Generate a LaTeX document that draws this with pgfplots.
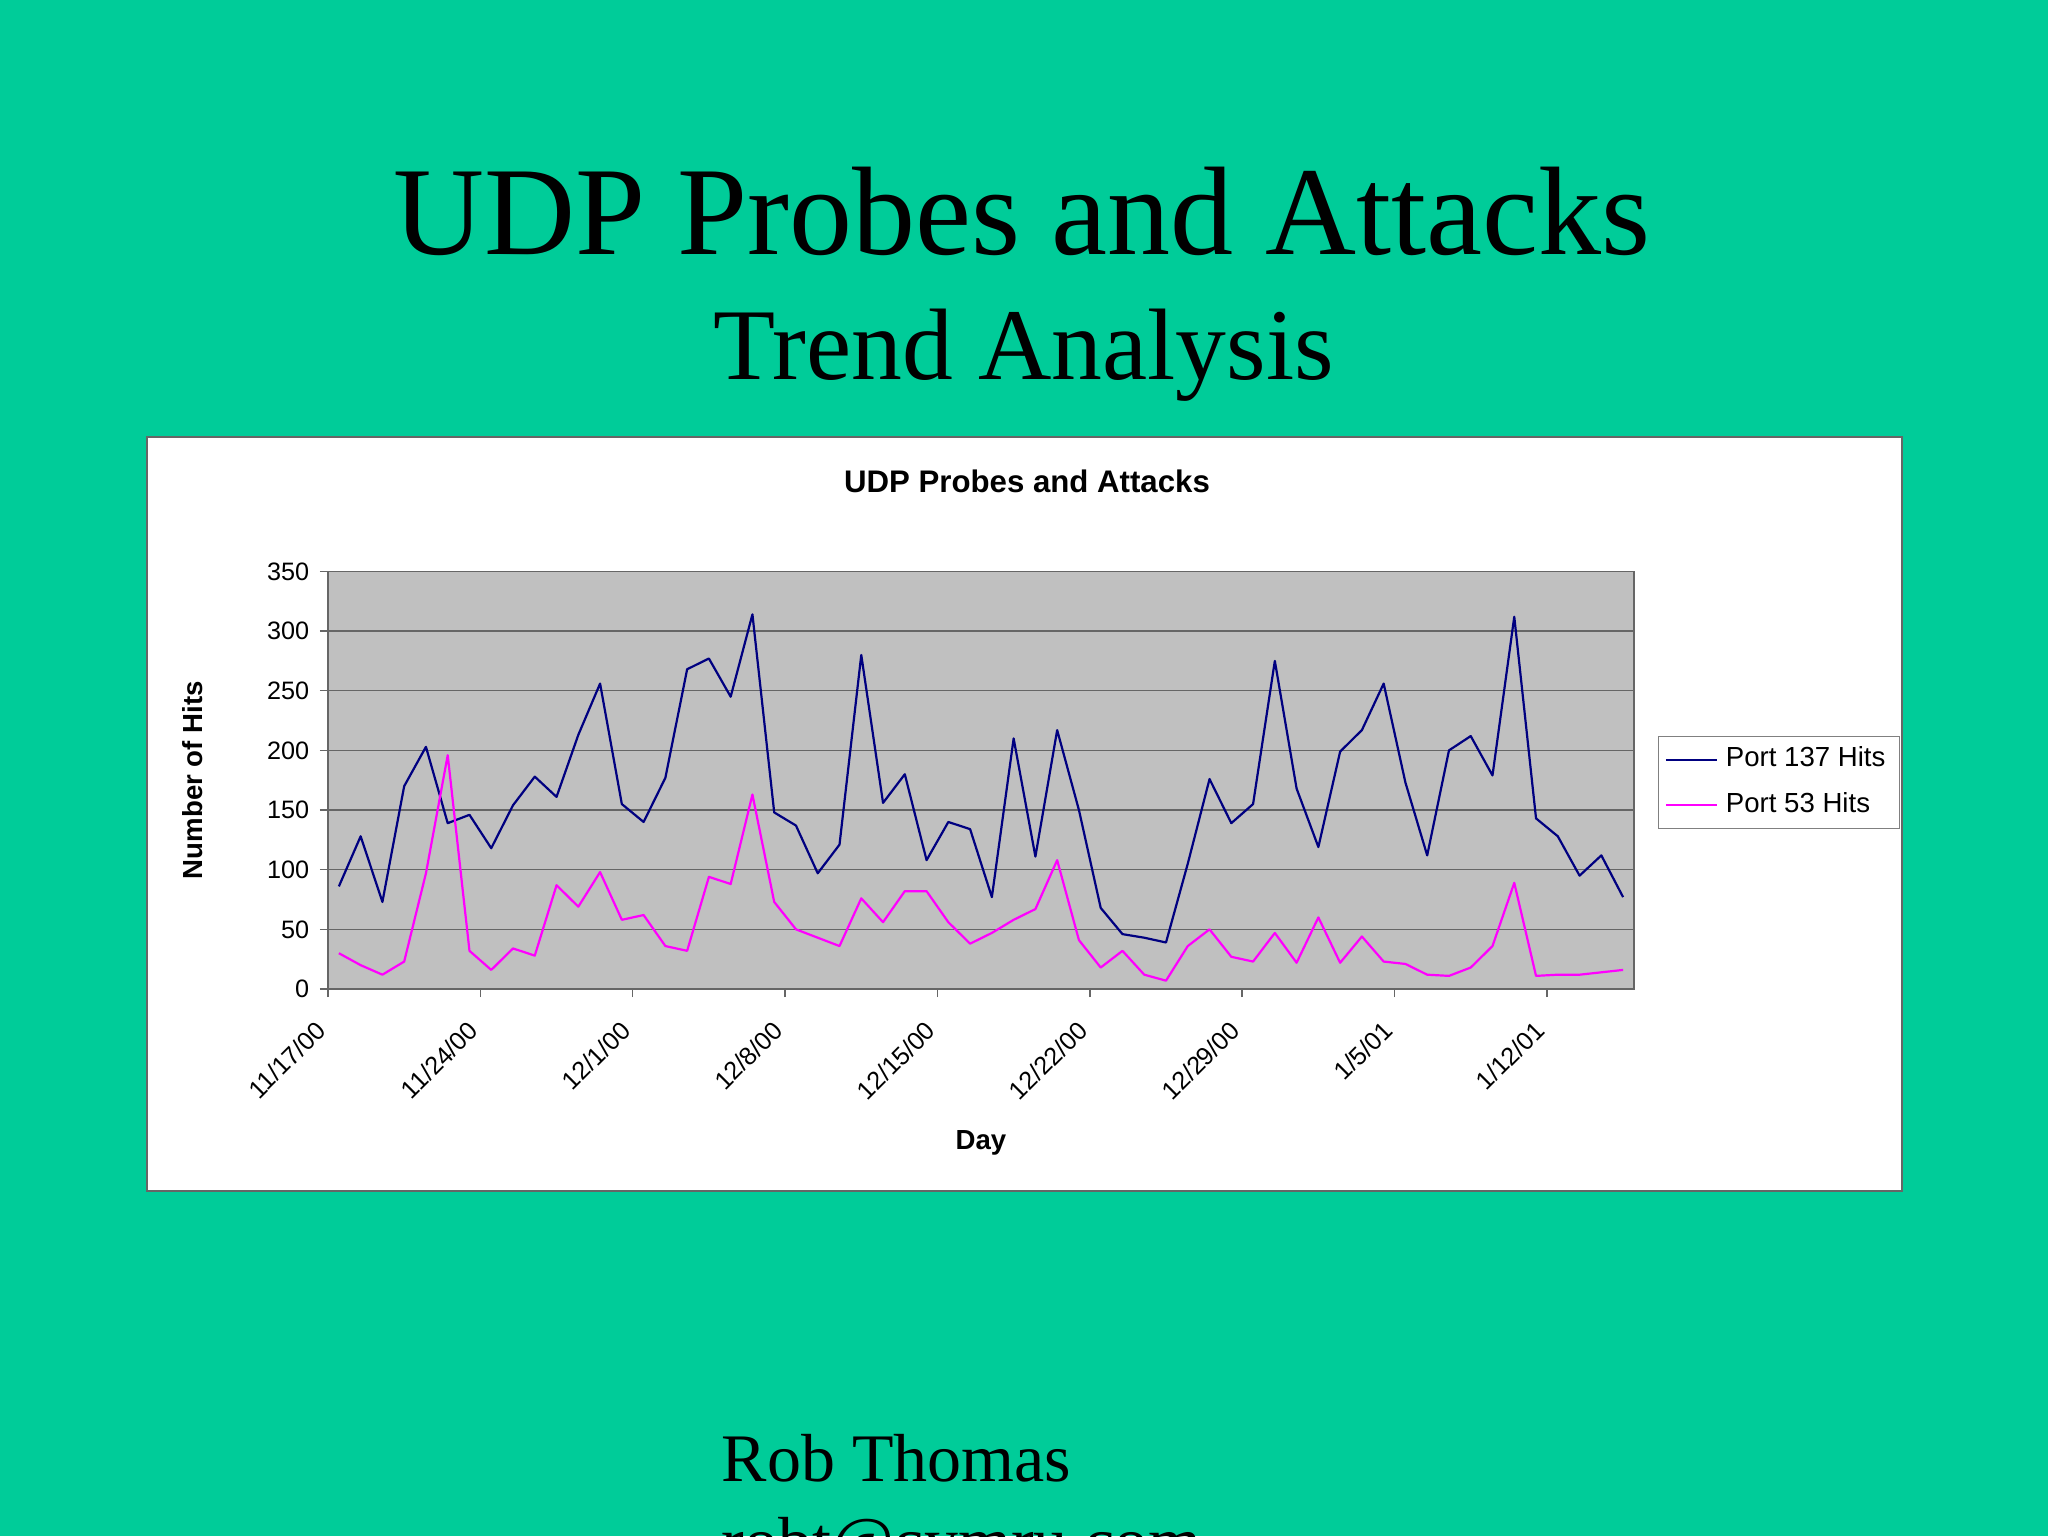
\documentclass[border=0pt]{standalone}
\usepackage{fontspec}
\setmainfont{Liberation Serif}
\newfontfamily\arial{Liberation Sans}
\usepackage{pgfplots}
\usepackage{pgfplotstable}
\pgfplotsset{compat=1.18}

\definecolor{slidegreen}{HTML}{00CC99}
\definecolor{navyline}{HTML}{000080}
\definecolor{magline}{RGB}{255,0,255}
\definecolor{plotgray}{HTML}{C0C0C0}

% day index 0 = 11/17/00, daily hits per port
\pgfplotstableread{
day p137 p53
0  86  30
1  128 20
2  73  12
3  170 23
4  203 97
5  139 196
6  146 32
7  118 16
8  154 34
9  178 28
10 161 87
11 213 69
12 256 98
13 155 58
14 140 62
15 177 36
16 268 32
17 277 94
18 245 88
19 314 163
20 148 73
21 137 50
22 97  43
23 121 36
24 280 76
25 156 56
26 180 82
27 108 82
28 140 56
29 134 38
30 77  47
31 210 58
32 111 67
33 217 108
34 150 41
35 68  18
36 46  32
37 43  12
38 39  7
39 105 36
40 176 50
41 139 27
42 155 23
43 275 47
44 168 22
45 119 60
46 199 22
47 217 44
48 256 23
49 173 21
50 112 12
51 200 11
52 212 18
53 179 36
54 312 89
55 143 11
56 128 12
57 95  12
58 112 14
59 77  16
}\udpdata

\begin{document}
\begin{tikzpicture}
\useasboundingbox (0pt,0pt) rectangle (512pt,384pt);
\clip (0pt,0pt) rectangle (512pt,384pt);
\fill[slidegreen] (0pt,0pt) rectangle (512pt,384pt);

% slide text
\node[font=\fontsize{31.5}{36}\selectfont, anchor=base, inner sep=0pt] at (255.5pt,320.25pt) {UDP Probes and Attacks};
\node[font=\fontsize{25.4}{30}\selectfont, anchor=base, inner sep=0pt] at (256pt,289.25pt) {Trend Analysis};
\node[font=\fontsize{17}{20}\selectfont, anchor=base west, inner sep=0pt] at (180.25pt,13.75pt) {Rob Thomas};
\node[font=\fontsize{17}{20}\selectfont, anchor=base west, inner sep=0pt] at (180.25pt,-7pt) {robt@cymru.com};

% chart area
\draw[black!60, fill=white, line width=0.3pt] (36.75pt,86.25pt) rectangle (475.5pt,274.75pt);
\node[font=\arial\bfseries\fontsize{7.8}{9}\selectfont, anchor=base, inner sep=0pt] at (256.75pt,260.9pt) {UDP Probes and Attacks};

\begin{axis}[
    at={(82pt,136.75pt)}, anchor=south west,
    scale only axis, width=326.5pt, height=104.4pt,
    xmin=-0.5, xmax=59.5, ymin=0, ymax=350,
    xtick={-0.5,6.5,13.5,20.5,27.5,34.5,41.5,48.5,55.5},
    xticklabels={11/17/00,11/24/00,12/1/00,12/8/00,12/15/00,12/22/00,12/29/00,1/5/01,1/12/01},
    ytick={0,50,...,350},
    axis background/.style={fill=plotgray},
    ymajorgrids, grid style={black!60, line width=0.35pt},
    tick align=outside, tick pos=left, major tick length=2pt,
    tick style={black!60, line width=0.35pt},
    axis line style={black!60, line width=0.4pt},
    /pgf/number format/assume math mode=true,
    tick label style={font=\arial\fontsize{6.3}{7.5}\selectfont},
    yticklabel style={inner sep=1pt, xshift=-1.5pt},
    xticklabel style={xshift=-1.6pt, yshift=-7.1pt, rotate=45, anchor=east, inner sep=0pt},
    xlabel={Day}, ylabel={Number of Hits},
    label style={font=\arial\bfseries\fontsize{6.9}{8}\selectfont},
    xlabel style={at={(axis description cs:0.5,-0.368)}, anchor=center},
    ylabel style={at={(axis description cs:-0.1034,0.5)}, anchor=center},
    legend style={at={(axis description cs:1.0185,0.606)}, anchor=north west,
        draw=black!50, line width=0.3pt, fill=white,
        font=\arial\fontsize{6.9}{8}\selectfont,
        inner xsep=1.5pt, inner ysep=0.6pt, row sep=0.8pt,
        cells={anchor=west, inner xsep=1.7pt}},
    legend image code/.code={\draw[#1] (0pt,0pt) -- (12.75pt,0pt);},
]
\addplot[navyline, line width=0.55pt, line join=round, no markers] table[x=day, y=p137] {\udpdata};
\addlegendentry{Port 137 Hits}
\addplot[magline, line width=0.55pt, line join=round, no markers] table[x=day, y=p53] {\udpdata};
\addlegendentry{Port 53 Hits}
\end{axis}
\end{tikzpicture}
\end{document}
